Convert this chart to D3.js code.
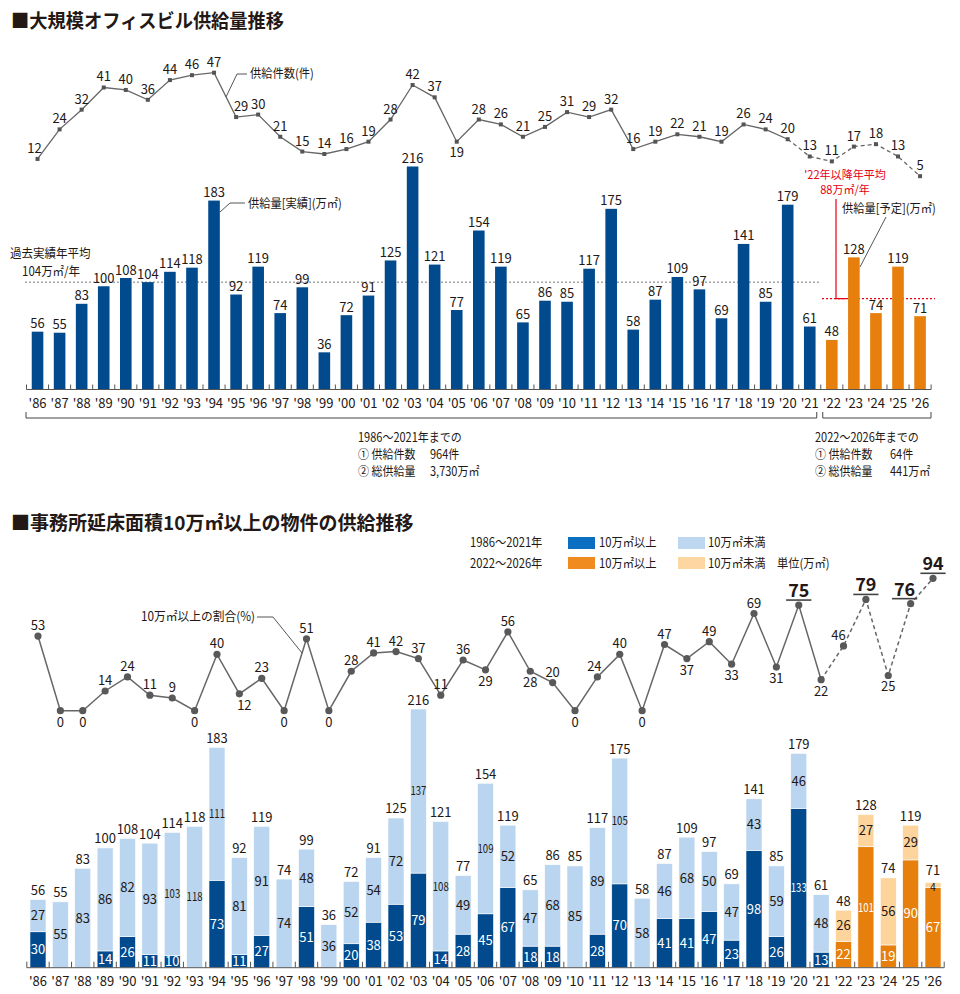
<!DOCTYPE html>
<html><head><meta charset="utf-8">
<script src="https://cdn.jsdelivr.net/npm/d3@7"></script>
<style>
body{margin:0;background:#fff}
svg{display:block}
text{font-family:"Noto Sans CJK JP","Noto Sans",sans-serif;fill:#231815}
</style>
</head><body>
<svg id="c" width="960" height="994"></svg>
<script>
// ---------------- DATA ----------------
const years = ["'86","'87","'88","'89","'90","'91","'92","'93","'94","'95","'96","'97","'98","'99","'00","'01","'02","'03","'04","'05","'06","'07","'08","'09","'10","'11","'12","'13","'14","'15","'16","'17","'18","'19","'20","'21","'22","'23","'24","'25","'26"];
// 供給件数(件)
const supplyCount = [12,24,32,41,40,36,44,46,47,29,30,21,15,14,16,19,28,42,37,19,28,26,21,25,31,29,32,16,19,22,21,19,26,24,20,13,11,17,18,13,5];
// 供給量 (万㎡) total
const supplyVolume = [56,55,83,100,108,104,114,118,183,92,119,74,99,36,72,91,125,216,121,77,154,119,65,86,85,117,175,58,87,109,97,69,141,85,179,61,48,128,74,119,71];
// 10万㎡以上
const largeVolume = [30,0,0,14,26,11,10,0,73,11,27,0,51,0,20,38,53,79,14,28,45,67,18,18,0,28,70,0,41,41,47,23,98,26,133,13,22,101,19,90,67];
// 10万㎡未満
const smallVolume = [27,55,83,86,82,93,103,118,111,81,91,74,48,36,52,54,72,137,108,49,109,52,47,68,85,89,105,58,46,68,50,47,43,59,46,48,26,27,56,29,4];
// 10万㎡以上の割合(%)
const largeShare = [53,0,0,14,24,11,9,0,40,12,23,0,51,0,28,41,42,37,11,36,29,56,28,20,0,24,40,0,47,37,49,33,69,31,75,22,46,79,25,76,94];
const pastAverage = 104;
const futureAverage = 88;
const actualYears = 36; // '86-'21 are actual results

// ---------------- STYLE ----------------
const svg = d3.select("#c");
const INK = "#231815";
const NAVY = "#004a8d", LIGHTBLUE = "#b9d5ef", ORANGE = "#e67f0c", LIGHTORANGE = "#fdd49c";
const LEG_BLUE = "#0a6fc0", LEG_ORANGE = "#f08b1f", LEG_LBLUE = "#bcd7ef", LEG_LORANGE = "#fdd6a2";
const RED = "#e60012", LINE = "#666", DOT = "#595959";

// condensed text helper
function ctext(x, y, s, opt = {}) {
  const t = svg.append("text")
    .attr("transform", `translate(${x},${y}) scale(${opt.sx || 0.9},1)`)
    .attr("font-size", opt.size || 12.5)
    .attr("text-anchor", opt.anchor || "start")
    .text(s);
  if (opt.fill) t.style("fill", opt.fill);
  if (opt.weight) t.attr("font-weight", opt.weight);
  return t;
}

// ================= TOP CHART =================
ctext(11, 28, "■大規模オフィスビル供給量推移", {size: 19, weight: 700, sx: 0.96});

const xT = d3.scaleBand().domain(years).range([26.5, 931.1]).padding(0);
const cxT = d => xT(d) + xT.bandwidth() / 2;
const yBarT = d3.scaleLinear().domain([0, 216]).range([389.5, 166.5]);
const yCnt = d3.scaleLinear().domain([0, 47]).range([188.5, 72.7]);

// average lines
svg.append("line").attr("x1", 25).attr("x2", 821).attr("y1", yBarT(pastAverage)).attr("y2", yBarT(pastAverage))
  .attr("stroke", "#777").attr("stroke-width", 1).attr("stroke-dasharray", "2,2");
svg.append("line").attr("x1", 822).attr("x2", 935).attr("y1", yBarT(futureAverage)).attr("y2", yBarT(futureAverage))
  .attr("stroke", RED).attr("stroke-width", 1.2).attr("stroke-dasharray", "2,2");
svg.append("path").attr("d", `M836,199V${yBarT(futureAverage)}H846`).attr("fill", "none").attr("stroke", RED).attr("stroke-width", 1.2);

// bars
const gBT = svg.append("g");
gBT.selectAll("rect").data(years).join("rect")
  .attr("x", d => cxT(d) - 5.8).attr("width", 11.6)
  .attr("y", (d, i) => yBarT(supplyVolume[i]))
  .attr("height", (d, i) => yBarT(0) - yBarT(supplyVolume[i]))
  .attr("fill", (d, i) => i < actualYears ? NAVY : ORANGE);
gBT.selectAll("text").data(years).join("text")
  .attr("x", d => cxT(d)).attr("y", (d, i) => yBarT(supplyVolume[i]) - 3.5)
  .attr("text-anchor", "middle").attr("font-size", 13)
  .text((d, i) => supplyVolume[i]);

// axis
const axT = svg.append("g").attr("transform", `translate(0,${yBarT(0)})`)
  .call(d3.axisBottom(xT).tickSize(0).tickPadding(9));
axT.select(".domain").remove();
axT.selectAll("text").attr("font-size", 13).attr("fill", INK).attr("font-family", '"Noto Sans CJK JP",sans-serif');
svg.append("line").attr("x1", 26.5).attr("x2", 931.1).attr("y1", yBarT(0)).attr("y2", yBarT(0)).attr("stroke", "#555");
svg.append("g").selectAll("line").data(years.map(d => xT(d)).concat([xT(years[years.length - 1]) + xT.bandwidth()]))
  .join("line").attr("x1", d => d).attr("x2", d => d).attr("y1", yBarT(0) - 5).attr("y2", yBarT(0)).attr("stroke", "#555");

// brackets
const bx = cxT(years[actualYears - 1]) + 7;
svg.append("path").attr("d", `M26,412V418H${bx}V412`).attr("fill", "none").attr("stroke", "#444");
svg.append("path").attr("d", `M${bx + 6},412V418H931V412`).attr("fill", "none").attr("stroke", "#444");
const sOpt = {size: 12.5, sx: 0.88};
ctext(358, 441.5, "1986〜2021年までの", sOpt);
ctext(358, 458.5, "① 供給件数", sOpt); ctext(430, 458.5, "964件", sOpt);
ctext(358, 475.5, "② 総供給量", sOpt); ctext(430, 475.5, "3,730万㎡", sOpt);
ctext(815, 441.5, "2022〜2026年までの", sOpt);
ctext(815, 458.5, "① 供給件数", sOpt); ctext(890, 458.5, "64件", sOpt);
ctext(815, 475.5, "② 総供給量", sOpt); ctext(890, 475.5, "441万㎡", sOpt);

// count line
const lineT = d3.line().x(d => cxT(d[0])).y(d => yCnt(d[1]));
const cntPts = years.map((y, i) => [y, supplyCount[i]]);
svg.append("path").attr("d", lineT(cntPts.slice(0, actualYears - 1))).attr("fill", "none").attr("stroke", LINE).attr("stroke-width", 1.3);
svg.append("path").attr("d", lineT(cntPts.slice(actualYears - 2))).attr("fill", "none").attr("stroke", LINE).attr("stroke-width", 1.3).attr("stroke-dasharray", "4,3");
svg.append("g").selectAll("rect").data(cntPts).join("rect")
  .attr("x", d => cxT(d[0]) - 2).attr("y", d => yCnt(d[1]) - 2).attr("width", 4).attr("height", 4).attr("fill", "#555");
const cntBelow = new Set(["'05"]);
const cntShift = {"'95": 5, "'86": -3};
svg.append("g").selectAll("text").data(cntPts).join("text")
  .attr("x", d => cxT(d[0]) + (cntShift[d[0]] || 0))
  .attr("y", d => cntBelow.has(d[0]) ? yCnt(d[1]) + 15 : yCnt(d[1]) - 6)
  .attr("text-anchor", "middle").attr("font-size", 13).text(d => d[1]);

// annotations
svg.append("path").attr("d", "M226,97L237,74H247").attr("fill", "none").attr("stroke", "#555");
ctext(250, 78, "供給件数(件)");
svg.append("path").attr("d", "M220,212L230,203H245").attr("fill", "none").attr("stroke", "#555");
ctext(248, 208, "供給量[実績](万㎡)");
svg.append("path").attr("d", "M886,217L860,267").attr("fill", "none").attr("stroke", "#555");
ctext(842, 213, "供給量[予定](万㎡)");
// red two-line note as one wrapped text
const redNote = svg.append("text")
  .attr("transform", "translate(845,178.5) scale(0.96,1)")
  .attr("font-size", 11.5).attr("text-anchor", "middle").style("fill", RED);
redNote.append("tspan").attr("x", 0).attr("dy", 0).text("'22年以降年平均");
redNote.append("tspan").attr("x", 0).attr("dy", 16).text(futureAverage + "万㎡/年");
ctext(10, 258, "過去実績年平均", {sx: 0.92});
ctext(22, 276, pastAverage + "万㎡/年", {sx: 0.92});

// ================= BOTTOM CHART =================
ctext(11, 530, "■事務所延床面積10万㎡以上の物件の供給推移", {size: 19, weight: 700, sx: 1});

// legend
const lOpt = {size: 12.5, sx: 0.9};
ctext(470, 547, "1986〜2021年", lOpt);
svg.append("rect").attr("x", 568).attr("y", 537).attr("width", 27).attr("height", 12).attr("fill", LEG_BLUE);
ctext(599, 547, "10万㎡以上", lOpt);
svg.append("rect").attr("x", 678).attr("y", 537).attr("width", 27).attr("height", 12).attr("fill", LEG_LBLUE);
ctext(708, 547, "10万㎡未満", lOpt);
ctext(470, 568, "2022〜2026年", lOpt);
svg.append("rect").attr("x", 568).attr("y", 557).attr("width", 27).attr("height", 12).attr("fill", LEG_ORANGE);
ctext(599, 568, "10万㎡以上", lOpt);
svg.append("rect").attr("x", 678).attr("y", 557).attr("width", 27).attr("height", 12).attr("fill", LEG_LORANGE);
ctext(708, 568, "10万㎡未満", lOpt);
ctext(777, 568, "単位(万㎡)", lOpt);

const xB = d3.scaleBand().domain(years).range([26.8, 944.2]).padding(0);
const cxB = d => xB(d) + xB.bandwidth() / 2;
const yBarB = d3.scaleLinear().domain([0, 216]).range([967.7, 709]);
const yPct = d3.scaleLinear().domain([0, 94]).range([710.7, 578.3]);

const table = years.map((y, i) => ({year: y, large: largeVolume[i], small: smallVolume[i], total: supplyVolume[i], i}));
const stacked = d3.stack().keys(["large", "small"])(table);
const gBB = svg.append("g");
stacked.forEach((layer, li) => {
  const g = gBB.append("g");
  g.selectAll("rect").data(layer.filter(d => d[1] > d[0])).join("rect")
    .attr("x", d => cxB(d.data.year) - 8).attr("width", 16)
    .attr("y", d => yBarB(d[1])).attr("height", d => yBarB(d[0]) - yBarB(d[1]))
    .attr("fill", d => d.data.i < actualYears ? (li === 0 ? NAVY : LIGHTBLUE) : (li === 0 ? ORANGE : LIGHTORANGE))
    .attr("stroke", "#fff").attr("stroke-width", 0.6);
  g.selectAll("text").data(layer.filter(d => d[1] > d[0])).join("text")
    .attr("transform", d => `translate(${cxB(d.data.year)},${(yBarB(d[0]) + yBarB(d[1])) / 2 + ((d[1] - d[0]) < 8 ? 2 : 0)}) scale(${(d[1] - d[0]) >= 100 ? 0.8 : 1},1)`)
    .attr("dy", "0.36em").attr("text-anchor", "middle")
    .attr("font-size", d => (d[1] - d[0]) >= 100 ? 12 : (d[1] - d[0]) < 8 ? 10.5 : 13)
    .style("fill", li === 0 ? "#fff" : INK)
    .text(d => d[1] - d[0]);
});
gBB.append("g").selectAll("text").data(stacked[1]).join("text")
  .attr("x", d => cxB(d.data.year)).attr("y", d => yBarB(d[1]) - ((d[1] - d[0]) < 8 ? 7.5 : 4.5))
  .attr("text-anchor", "middle").attr("font-size", 13).text(d => d.data.total);

const axB = svg.append("g").attr("transform", `translate(0,${yBarB(0)})`)
  .call(d3.axisBottom(xB).tickSize(0).tickPadding(9));
axB.select(".domain").remove();
axB.selectAll("text").attr("font-size", 13).attr("fill", INK).attr("font-family", '"Noto Sans CJK JP",sans-serif');
svg.append("line").attr("x1", 26.8).attr("x2", 944.2).attr("y1", yBarB(0)).attr("y2", yBarB(0)).attr("stroke", "#555");
svg.append("g").selectAll("line").data(years.map(d => xB(d)).concat([xB(years[years.length - 1]) + xB.bandwidth()]))
  .join("line").attr("x1", d => d).attr("x2", d => d).attr("y1", yBarB(0) - 6).attr("y2", yBarB(0)).attr("stroke", "#555");

// share line
const pctPts = years.map((y, i) => [y, largeShare[i]]);
const lineB = d3.line().x(d => cxB(d[0])).y(d => yPct(d[1]));
svg.append("path").attr("d", lineB(pctPts.slice(0, actualYears))).attr("fill", "none").attr("stroke", LINE).attr("stroke-width", 1.5);
svg.append("path").attr("d", lineB(pctPts.slice(actualYears - 1))).attr("fill", "none").attr("stroke", LINE).attr("stroke-width", 1.5).attr("stroke-dasharray", "4,3");
svg.append("g").selectAll("circle").data(pctPts).join("circle")
  .attr("cx", d => cxB(d[0])).attr("cy", d => yPct(d[1])).attr("r", 3.6).attr("fill", DOT);

const pctBelow = new Set(["'87","'88","'93","'95","'97","'99","'06","'08","'10","'13","'15","'17","'19","'21","'24"]);
const pctShift = {"'95": 5, "'11": -3, "'22": -5, "'25": -6};
const bigIdx = new Set(["'20","'23","'25","'26"]);
const gPL = svg.append("g");
pctPts.forEach(d => {
  const x = cxB(d[0]) + (pctShift[d[0]] || 0), y = yPct(d[1]);
  if (bigIdx.has(d[0])) {
    const t = gPL.append("text").attr("x", x).attr("y", y - 8).attr("text-anchor", "middle")
      .attr("font-size", 18).attr("font-weight", 700).text(d[1]);
    const w = t.node().getComputedTextLength();
    gPL.append("line").attr("x1", x - w / 2 - 2).attr("x2", x + w / 2 + 2).attr("y1", y - 5).attr("y2", y - 5)
      .attr("stroke", "#444").attr("stroke-width", 1.6);
  } else {
    gPL.append("text").attr("x", x).attr("y", pctBelow.has(d[0]) ? y + 16 : y - 6)
      .attr("text-anchor", "middle").attr("font-size", 13).text(d[1]);
  }
});
svg.append("path").attr("d", "M257,617H273L302,653").attr("fill", "none").attr("stroke", "#555");
ctext(255, 621, "10万㎡以上の割合(%)", {anchor: "end", sx: 0.94});
</script>
</body></html>
